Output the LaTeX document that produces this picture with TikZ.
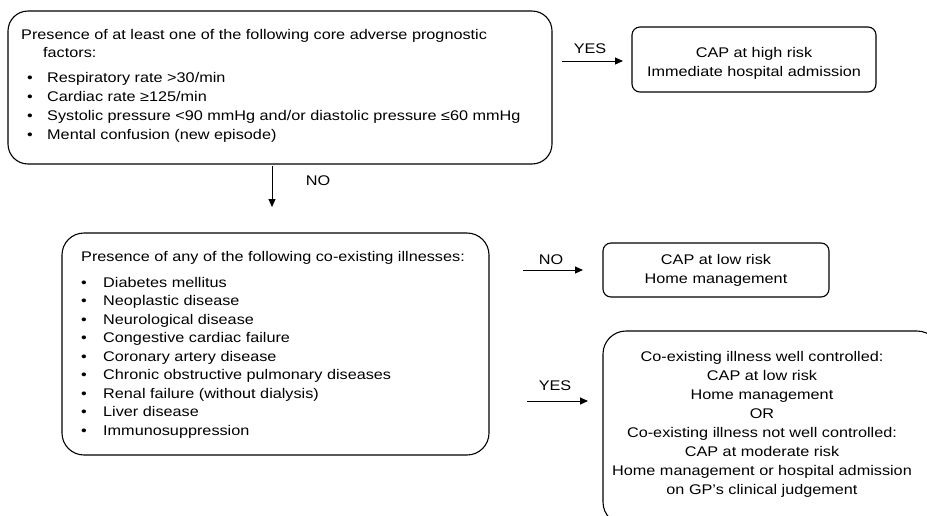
\documentclass[tikz,border=0pt]{standalone}
\usepackage{fontspec}
\setmainfont{Liberation Sans}[FakeStretch=1.16]
\usetikzlibrary{arrows.meta}
\tikzset{
  box/.style={draw, line width=1.1pt, rounded corners=#1},
  txt/.style={anchor=base west, inner sep=0pt, font=\fontsize{14}{17}\selectfont},
  ctxt/.style={anchor=base, inner sep=0pt, font=\fontsize{14}{17}\selectfont},
  arr/.style={draw, line width=1pt, -{Triangle[length=8pt,width=7pt]}},
}
\begin{document}
\begin{tikzpicture}[x=1pt,y=-1pt]
\useasboundingbox (0,0) rectangle (927,515);
% boxes
\draw[box=20] (8,11) rectangle (552,164);
\draw[box=8] (632,27) rectangle (876,92);
\draw[box=22] (62,233) rectangle (489,455);
\draw[box=8] (603,243) rectangle (829,297);
\draw[box=23] (603,331) rectangle (940,525);
% box 1 text
\node[txt] (p1) at (21,39) {Presence of at least one of the following core adverse prognostic};
\node[txt] (p2) at (43,57) {factors:};
\foreach \t [count=\i] in {Respiratory rate >30/min, Cardiac rate ≥125/min, Systolic pressure <90 mmHg and/or diastolic pressure ≤60 mmHg, Mental confusion (new episode)}{
  \node[ctxt] (bu1\i) at (30,63+19*\i) {•};
  \node[txt] (it1\i) at (47,63+19*\i) {\t};
}
% box 2 text
\node[ctxt] (h1) at (754,57) {CAP at high risk};
\node[ctxt] (h2) at (754,76) {Immediate hospital admission};
% box 3 text
\node[txt] (q1) at (81,261) {Presence of any of the following co-existing illnesses:};
\foreach \t [count=\i] in {Diabetes mellitus, Neoplastic disease, Neurological disease, Congestive cardiac failure, Coronary artery disease, Chronic obstructive pulmonary diseases, Renal failure (without dialysis), Liver disease, Immunosuppression}{
  \node[ctxt] (bu3\i) at (84,268.5+18.5*\i) {•};
  \node[txt] (it3\i) at (103,268.5+18.5*\i) {\t};
}
% box 4 text
\node[ctxt] (l1) at (716,264) {CAP at low risk};
\node[ctxt] (l2) at (716,283) {Home management};
% box 5 text
\foreach \t [count=\i] in {Co-existing illness well controlled:, CAP at low risk, Home management, OR, Co-existing illness not well controlled:, CAP at moderate risk, Home management or hospital admission, on GP’s clinical judgement}{
  \node[ctxt] (m\i) at (762,342+19*\i) {\t};
}
% arrows
\coordinate (a1s) at (562,61); \coordinate (a1e) at (623,61);
\draw[arr] (a1s) -- (a1e);
\node[ctxt] (yes1) at (590,53) {YES};
\coordinate (a2s) at (272,166); \coordinate (a2e) at (272,207);
\draw[arr] (a2s) -- (a2e);
\node[ctxt] (no1) at (318,185) {NO};
\coordinate (a3s) at (523,270); \coordinate (a3e) at (583,270);
\draw[arr] (a3s) -- (a3e);
\node[ctxt] (no2) at (551,264) {NO};
\coordinate (a4s) at (527,401); \coordinate (a4e) at (588,401);
\draw[arr] (a4s) -- (a4e);
\node[ctxt] (yes2) at (555,390) {YES};
\end{tikzpicture}
\end{document}
